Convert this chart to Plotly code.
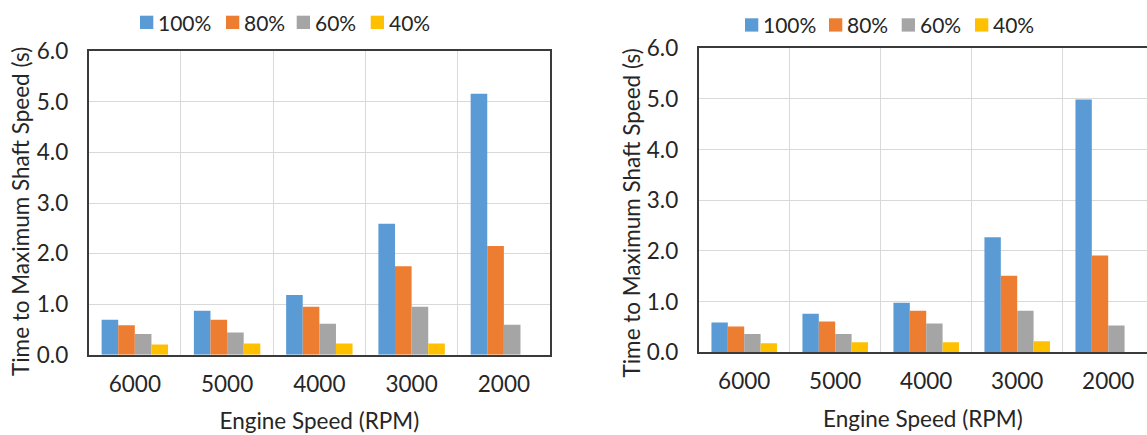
import plotly.graph_objects as go

# Engine speeds (category axis) and throttle settings (series)
engine_speeds = ["6000", "5000", "4000", "3000", "2000"]
throttle_levels = ["100%", "80%", "60%", "40%"]

# Time to maximum shaft speed (s), left chart
left_100 = [0.69, 0.87, 1.18, 2.59, 5.16]
left_80 = [0.58, 0.69, 0.95, 1.75, 2.15]
left_60 = [0.41, 0.44, 0.61, 0.95, 0.59]
left_40 = [0.20, 0.22, 0.22, 0.22, 0.0]

# Time to maximum shaft speed (s), right chart
right_100 = [0.59, 0.76, 0.98, 2.27, 4.99]
right_80 = [0.51, 0.61, 0.82, 1.51, 1.91]
right_60 = [0.36, 0.36, 0.57, 0.82, 0.53]
right_40 = [0.18, 0.20, 0.20, 0.22, 0.0]

y_ticks = [0, 1, 2, 3, 4, 5, 6]
y_title = "Time to Maximum Shaft Speed (s)"
x_title = "Engine Speed (RPM)"

colors = ["#5B9BD5", "#ED7D31", "#A5A5A5", "#FFC000"]
W, H = 1147, 435
FONT = "Lato"
TXT = "#262626"
FS = 22.5
LEG_FS = 21


def px(x):
    return x / W


def py(y):
    return 1 - y / H


fig = go.Figure()

panels = [
    ("x", "y", [left_100, left_80, left_60, left_40]),
    ("x2", "y2", [right_100, right_80, right_60, right_40]),
]
for xa, ya, series in panels:
    for name, vals, col in zip(throttle_levels, series, colors):
        fig.add_trace(go.Bar(
            x=engine_speeds, y=vals, name=name, xaxis=xa, yaxis=ya,
            marker=dict(color=col, line=dict(width=0)),
            showlegend=False,
        ))

axis_common = dict(
    showgrid=True, gridcolor="#D9D9D9", gridwidth=1,
    showline=True, linecolor="#3A3A3A", linewidth=2,
    ticks="", zeroline=False, automargin=False,
    tickfont=dict(family=FONT, size=FS, color=TXT),
)

# Plot area geometry (pixels)
L_left, L_right, L_top, L_bot = 88.7, 550.0, 51.3, 354.7
R_left, R_top, R_bot = 698.7, 48.3, 352.3
R_step = 91.0
R_range_end = (W - R_left) / R_step - 0.5

x_title_cfg = dict(text=x_title, font=dict(family=FONT, size=FS, color=TXT), standoff=18)

fig.update_layout(
    width=W, height=H,
    margin=dict(l=0, r=0, t=0, b=0),
    paper_bgcolor="white", plot_bgcolor="white",
    barmode="group", bargap=0.28, bargroupgap=0,
    font=dict(family=FONT, size=FS, color=TXT),
    xaxis=dict(
        domain=[px(L_left), px(L_right)], anchor="y",
        type="category", tickson="boundaries", mirror=True,
        range=[-0.5, 4.5], ticklabelstandoff=8,
        title=x_title_cfg,
        **axis_common,
    ),
    yaxis=dict(
        domain=[py(L_bot), py(L_top)], anchor="x",
        range=[0, 6], tickvals=y_ticks, tickformat=".1f", mirror=True,
        ticklabelstandoff=14,
        **axis_common,
    ),
    xaxis2=dict(
        domain=[px(R_left), 1.0], anchor="y2",
        type="category", tickson="boundaries", mirror=True,
        range=[-0.5, R_range_end], ticklabelstandoff=8,
        title=x_title_cfg,
        **axis_common,
    ),
    yaxis2=dict(
        domain=[py(R_bot), py(R_top)], anchor="x2",
        range=[0, 6], tickvals=y_ticks, tickformat=".1f", mirror=False,
        ticklabelstandoff=14,
        **axis_common,
    ),
)

# Rotated y-axis titles
for xc, yc in [(20.5, 211.5), (630.5, 213.0)]:
    fig.add_annotation(
        xref="paper", yref="paper", x=px(xc), y=py(yc),
        text=y_title, textangle=-90, showarrow=False,
        xanchor="center", yanchor="middle",
        font=dict(family=FONT, size=FS, color=TXT),
    )

# Legends above each chart: colour square followed by its label
legend_layout = [
    ([140.0, 226.0, 296.7, 370.7], 15.7),
    ([745.0, 829.0, 901.7, 975.0], 18.3),
]
SQ = 13.3
for xs, ytop in legend_layout:
    for x0, name, col in zip(xs, throttle_levels, colors):
        fig.add_shape(
            type="rect", xref="paper", yref="paper",
            x0=px(x0), x1=px(x0 + SQ), y0=py(ytop + SQ), y1=py(ytop),
            fillcolor=col, line=dict(width=0),
        )
        fig.add_annotation(
            xref="paper", yref="paper", x=px(x0 + SQ + 2.5), y=py(ytop + SQ / 2),
            text=name, showarrow=False, xanchor="left", yanchor="middle",
            font=dict(family=FONT, size=LEG_FS, color=TXT),
        )

fig.write_html("out.html")
